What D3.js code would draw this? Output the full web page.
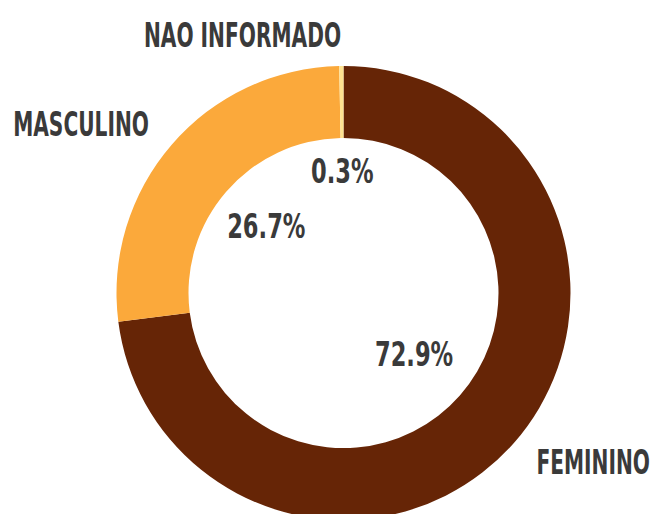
<!DOCTYPE html>
<html>
<head>
<meta charset="utf-8">
<script src="https://cdn.jsdelivr.net/npm/d3@7"></script>
<style>
  html, body { margin: 0; padding: 0; background: #fff; }
  text { font-family: "DejaVu Sans Condensed", "DejaVu Sans", sans-serif; font-weight: bold; fill: #3a3a3a; }
</style>
</head>
<body>
<svg id="chart" width="655" height="514"></svg>
<script>
// DATA
const categories = ['FEMININO', 'MASCULINO', 'NAO INFORMADO'];
const shares = [72.9, 26.7, 0.3];
const colors = ['#662506', '#fba93b', '#fee391'];

// LAYOUT
const CX = 343.5;
const CY = 293;
const OUTER_R = 227;
const INNER_R = 155;
const NAME_R = 257;
const FONT_SIZE = 33;
// the original font is a tall condensed face, narrower than anything installed
const NAME_SQUEEZE = 0.68;
const PCT_SQUEEZE = 0.76;
// radius of the percentage labels, per slice
const pctRadius = { 'FEMININO': 94, 'MASCULINO': 102, 'NAO INFORMADO': 121 };

const svg = d3.select('#chart');
const g = svg.append('g').attr('transform', `translate(${CX},${CY})`);

const rows = categories.map((c, i) => ({ name: c, value: shares[i], color: colors[i] }));

const pie = d3.pie().sort(null).value((d) => d.value);
const arc = d3.arc().innerRadius(INNER_R).outerRadius(OUTER_R);
const arcs = pie(rows);

g.selectAll('path.slice')
  .data(arcs)
  .join('path')
  .attr('class', 'slice')
  .attr('d', arc)
  .attr('fill', (d) => d.data.color);

const midAngle = (d) => (d.startAngle + d.endAngle) / 2;
const polar = (a, r) => [r * Math.sin(a), -r * Math.cos(a)];

// percentages inside the hole
g.selectAll('text.pct')
  .data(arcs)
  .join('text')
  .attr('class', 'pct')
  .attr('transform', (d) => {
    const [x, y] = polar(midAngle(d), pctRadius[d.data.name]);
    return `translate(${x},${y}) scale(${PCT_SQUEEZE},1)`;
  })
  .attr('text-anchor', 'middle')
  .attr('dominant-baseline', 'central')
  .style('font-size', `${FONT_SIZE}px`)
  .text((d) => `${d.data.value.toFixed(1)}%`);

// category names outside the ring
g.selectAll('text.name')
  .data(arcs)
  .join('text')
  .attr('class', 'name')
  .attr('transform', (d) => {
    const [x, y] = polar(midAngle(d), NAME_R);
    return `translate(${x},${y}) scale(${NAME_SQUEEZE},1)`;
  })
  .attr('text-anchor', (d) => (midAngle(d) > Math.PI ? 'end' : 'start'))
  .attr('dominant-baseline', 'central')
  .style('font-size', `${FONT_SIZE}px`)
  .text((d) => d.data.name);
</script>
</body>
</html>
